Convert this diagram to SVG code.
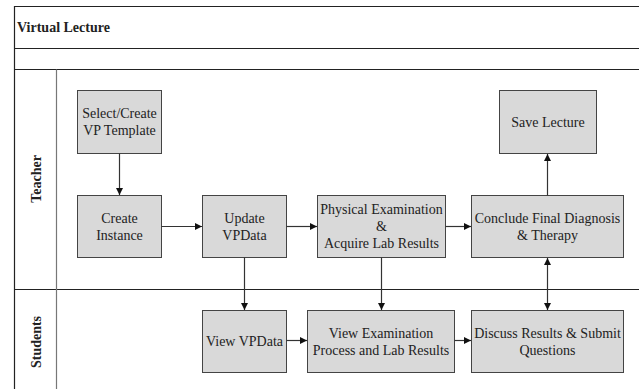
<svg xmlns="http://www.w3.org/2000/svg" width="639" height="389" viewBox="0 0 639 389">
<defs>
<style>
.frame{fill:none;stroke:#222;stroke-width:1.2}
.div{stroke:#777;stroke-width:1.2}
.box{fill:#d9d9d9;stroke:#444;stroke-width:1}
.t{font-family:"Liberation Serif","Times New Roman",serif;font-size:14px;fill:#222;text-anchor:middle}
.lane{font-family:"Liberation Serif","Times New Roman",serif;font-size:14px;font-weight:bold;fill:#222;text-anchor:middle}
.c{fill:none;stroke:#333;stroke-width:1.2}
</style>
<marker id="ah" viewBox="0 0 10 10" refX="10" refY="5" markerWidth="7" markerHeight="7" markerUnits="userSpaceOnUse" orient="auto-start-reverse">
<path d="M0,0 L10,5 L0,10 z" fill="#111"/>
</marker>
</defs>
<rect x="0" y="0" width="639" height="389" fill="#fff"/>
<g id="pool">
<path class="frame" d="M639,6.5 H14.5 V389"/>
<line class="frame" x1="14.5" y1="48.5" x2="639" y2="48.5"/>
<line class="frame" x1="14.5" y1="69.5" x2="639" y2="69.5"/>
<line class="frame" x1="14.5" y1="289.5" x2="639" y2="289.5"/>
<line class="div" x1="56.5" y1="69.5" x2="56.5" y2="389"/>
<text x="17" y="32" style="font-family:'Liberation Serif','Times New Roman',serif;font-size:14px;font-weight:bold;fill:#222">Virtual Lecture</text>
<text class="lane" transform="translate(41,179) rotate(-90)">Teacher</text>
<text class="lane" transform="translate(41,342) rotate(-90)">Students</text>
</g>
<g id="n-select"><rect class="box" x="77.5" y="90.5" width="84" height="63"/><text class="t" x="119.5" y="118">Select/Create</text><text class="t" x="119.5" y="135">VP Template</text></g>
<g id="n-create"><rect class="box" x="77.5" y="195.5" width="84" height="62"/><text class="t" x="119.5" y="223">Create</text><text class="t" x="119.5" y="240">Instance</text></g>
<g id="n-update"><rect class="box" x="202.5" y="195.5" width="84" height="62"/><text class="t" x="244.5" y="223">Update</text><text class="t" x="244.5" y="240">VPData</text></g>
<g id="n-phys"><rect class="box" x="317.5" y="195.5" width="128" height="62"/><text class="t" x="381.5" y="214">Physical Examination</text><text class="t" x="381.5" y="231">&amp;</text><text class="t" x="381.5" y="248">Acquire Lab Results</text></g>
<g id="n-conclude"><rect class="box" x="471.5" y="195.5" width="152" height="62"/><text class="t" x="547.5" y="223">Conclude Final Diagnosis</text><text class="t" x="547.5" y="240">&amp; Therapy</text></g>
<g id="n-save"><rect class="box" x="499.5" y="90.5" width="97" height="63"/><text class="t" x="548" y="127">Save Lecture</text></g>
<g id="n-viewvp"><rect class="box" x="202.5" y="310.5" width="84" height="62"/><text class="t" x="244.5" y="346">View VPData</text></g>
<g id="n-viewexam"><rect class="box" x="307.5" y="310.5" width="147" height="62"/><text class="t" x="381" y="338">View Examination</text><text class="t" x="381" y="355">Process and Lab Results</text></g>
<g id="n-discuss"><rect class="box" x="471.5" y="310.5" width="152" height="62"/><text class="t" x="547.5" y="338">Discuss Results &amp; Submit</text><text class="t" x="547.5" y="355">Questions</text></g>
<g id="connectors">
<line class="c" x1="119.5" y1="153.5" x2="119.5" y2="195" marker-end="url(#ah)"/>
<line class="c" x1="161.5" y1="226.5" x2="202" y2="226.5" marker-end="url(#ah)"/>
<line class="c" x1="286.5" y1="226.5" x2="317" y2="226.5" marker-end="url(#ah)"/>
<line class="c" x1="445.5" y1="226.5" x2="471" y2="226.5" marker-end="url(#ah)"/>
<line class="c" x1="547.5" y1="195.5" x2="547.5" y2="154" marker-end="url(#ah)"/>
<line class="c" x1="244.5" y1="257.5" x2="244.5" y2="310" marker-end="url(#ah)"/>
<line class="c" x1="381.5" y1="257.5" x2="381.5" y2="310" marker-end="url(#ah)"/>
<line class="c" x1="547.5" y1="258" x2="547.5" y2="310" marker-start="url(#ah)" marker-end="url(#ah)"/>
<line class="c" x1="286.5" y1="340.5" x2="307" y2="340.5" marker-end="url(#ah)"/>
<line class="c" x1="454.5" y1="340.5" x2="471" y2="340.5" marker-end="url(#ah)"/>
</g>
</svg>
